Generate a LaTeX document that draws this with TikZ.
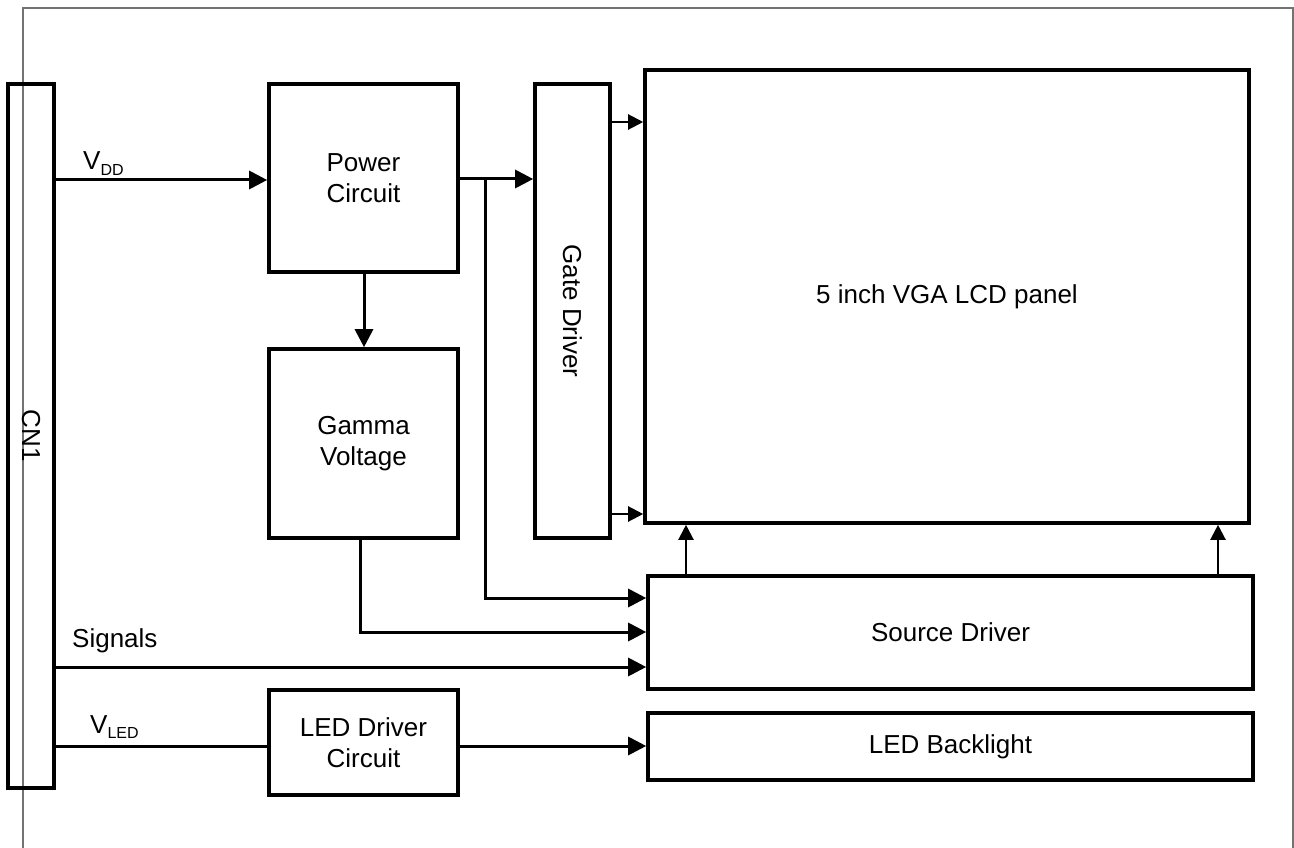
\documentclass[tikz,border=0pt]{standalone}
\usepackage{fontspec}
\setmainfont{Liberation Sans}
\usetikzlibrary{arrows.meta}
\begin{document}
\begin{tikzpicture}[x=1pt,y=-1pt,
  box/.style={draw=black, line width=3.6pt, inner sep=0pt, align=center, font=\fontsize{26}{31}\selectfont},
  arr/.style={line width=3pt, -{Triangle[length=18pt,width=18pt]}},
  thinarr/.style={line width=2.2pt, -{Triangle[length=15pt,width=15pt]}},
  ln/.style={line width=3pt},
  lbl/.style={font=\fontsize{26}{31}\selectfont, inner sep=0pt, anchor=base west},
  frame/.style={draw=black!55, line width=1.4pt}]
\useasboundingbox (0,0) rectangle (1294,848);
\draw[frame] (23,848) -- (23,8) -- (1293,8) -- (1293,848);
\newcommand{\sbs}[1]{\raisebox{-0.22em}{\fontsize{16}{16}\selectfont #1}}
% boxes
\node[box, minimum width=46pt, minimum height=704pt] (CN1) at (31,436) {};
\node[rotate=-90, font=\fontsize{26}{31}\selectfont] (CN1t) at (CN1.center) {CN1};
\node[box, minimum width=189pt, minimum height=188pt] (Power) at (363.5,178) {Power\\Circuit};
\node[box, minimum width=189pt, minimum height=189pt] (Gamma) at (363.5,443.5) {Gamma\\Voltage};
\node[box, minimum width=189pt, minimum height=105pt] (LEDdrv) at (363.5,742.5) {LED Driver\\Circuit};
\node[box, minimum width=75pt, minimum height=454pt] (Gate) at (572.5,311) {};
\node[rotate=-90, font=\fontsize{26}{31}\selectfont] (Gatet) at (Gate.center) {Gate Driver};
\node[box, minimum width=604pt, minimum height=453pt] (LCD) at (947,296.5) {5 inch VGA LCD panel};
\node[box, minimum width=605pt, minimum height=113pt] (Source) at (950.5,632.5) {Source Driver};
\node[box, minimum width=605pt, minimum height=67pt] (Back) at (950.5,746.5) {LED Backlight};
% labels
\node[lbl] (vdd) at (83,170) {V\sbs{DD}};
\node[lbl] (sig) at (72,647) {Signals};
\node[lbl] (vled) at (90,733) {V\sbs{LED}};
% connectors
\draw[arr] (CN1.east |- {(0,180)}) -- (Power.west |- {(0,180)});
\draw[arr] (Power.east |- {(0,179)}) -- (Gate.west |- {(0,179)});
\coordinate (j) at (485,179);
\draw[arr] (j) -- (485,598) -- (Source.west |- {(0,598)});
\draw[arr] (Power.south -| {(364,0)}) -- (Gamma.north -| {(364,0)});
\draw[arr] (Gamma.south -| {(360,0)}) -- (360,632) -- (Source.west |- {(0,632)});
\draw[arr] (CN1.east |- {(0,667)}) -- (Source.west |- {(0,667)});
\draw[ln] (CN1.east |- {(0,746)}) -- (LEDdrv.west |- {(0,746)});
\draw[arr] (LEDdrv.east |- {(0,746)}) -- (Back.west |- {(0,746)});
\draw[thinarr] (Gate.east |- {(0,122)}) -- (LCD.west |- {(0,122)});
\draw[thinarr] (Gate.east |- {(0,514)}) -- (LCD.west |- {(0,514)});
\draw[thinarr] (Source.north -| {(686,0)}) -- (LCD.south -| {(686,0)});
\draw[thinarr] (Source.north -| {(1218,0)}) -- (LCD.south -| {(1218,0)});
\end{tikzpicture}
\end{document}
